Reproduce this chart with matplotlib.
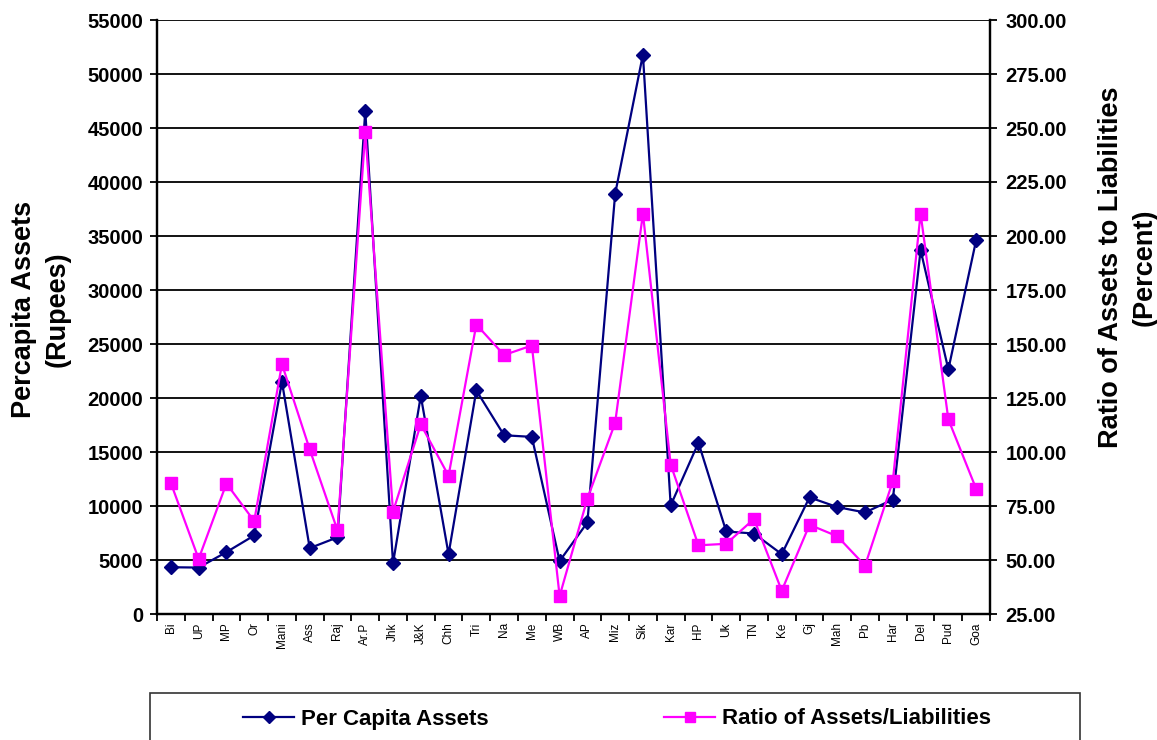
import matplotlib
matplotlib.use("Agg")
import matplotlib.pyplot as plt
from matplotlib.patches import Rectangle
from matplotlib.ticker import FormatStrFormatter, MultipleLocator

plt.rcParams['font.family'] = ['Liberation Sans', 'DejaVu Sans']

states = ['Bi', 'UP', 'MP', 'Or', 'Mani', 'Ass', 'Raj', 'Ar.P', 'Jhk', 'J&K',
          'Chh', 'Tri', 'Na', 'Me', 'WB', 'AP', 'Miz', 'Sik', 'Kar', 'HP',
          'Uk', 'TN', 'Ke', 'Gj', 'Mah', 'Pb', 'Har', 'Del', 'Pud', 'Goa']

per_capita = [4330, 4300, 5730, 7270, 21500, 6100, 7100, 46600, 4700, 20200,
              5540, 20700, 16550, 16400, 4900, 8480, 38900, 51800, 10060, 15860,
              7640, 7450, 5540, 10800, 9900, 9400, 10600, 33700, 22650, 34600]

ratio = [85.6, 50.5, 85.4, 68.0, 140.7, 101.2, 63.7, 248.0, 72.4, 112.8,
         89.0, 159.0, 144.9, 149.3, 33.3, 78.4, 113.5, 210.4, 94.2, 56.8,
         57.5, 69.0, 35.8, 66.3, 61.0, 47.4, 86.5, 210.4, 115.1, 83.0]

W, H = 1157, 740
fig = plt.figure(figsize=(W / 100, H / 100), dpi=100)
ax = fig.add_axes([157 / W, 1 - 614 / H, (990 - 157) / W, (614 - 20) / H])
ax2 = ax.twinx()

x = list(range(len(states)))

# left axis: per capita assets
l1, = ax.plot(x, per_capita, color='#000080', lw=1.6, marker='D', ms=7,
              mfc='#000080', mec='#000080', label='Per Capita Assets')
ax.set_ylim(0, 55000)
ax.yaxis.set_major_locator(MultipleLocator(5000))
ax.grid(axis='y', color='black', lw=1.3)
ax.set_axisbelow(True)

# right axis: ratio
l2, = ax2.plot(x, ratio, color='#FF00FF', lw=1.6, marker='s', ms=8,
               mfc='#FF00FF', mec='#FF00FF', label='Ratio of Assets/Liabilities')
ax2.set_ylim(25, 300)
ax2.yaxis.set_major_locator(MultipleLocator(25))
ax2.yaxis.set_major_formatter(FormatStrFormatter('%.2f'))

ax.set_xlim(-0.5, len(states) - 0.5)
ax.set_xticks(x)
ax.set_xticklabels(states, rotation=90, fontsize=8.5)
ax.set_xticks([i - 0.5 for i in range(len(states) + 1)], minor=True)
ax.tick_params(axis='x', which='major', length=0, pad=6)
ax.tick_params(axis='x', which='minor', length=5, width=1.3, direction='out')

for a in (ax, ax2):
    for side in ('left', 'right', 'bottom'):
        a.spines[side].set_linewidth(1.6)
        a.spines[side].set_color('black')
    a.spines['top'].set_visible(False)

ax.tick_params(axis='y', length=5, width=1.3, labelsize=14.5, pad=5)
ax2.tick_params(axis='y', length=5, width=1.3, labelsize=14.5, pad=6)
for lab in ax.get_yticklabels() + ax2.get_yticklabels():
    lab.set_fontweight('bold')

fig.text(41 / W, 1 - 309 / H, 'Percapita Assets\n(Rupees)', rotation=90,
         ha='center', va='center', ma='center', fontsize=19.5, fontweight='bold',
         linespacing=1.35)
fig.text(1128 / W, 1 - 267 / H, 'Ratio of Assets to Liabilities\n(Percent)',
         rotation=90, ha='center', va='center', ma='center', fontsize=19.5,
         fontweight='bold', linespacing=1.35)

# legend box (runs off the bottom of the figure)
fig.add_artist(Rectangle((150 / W, -0.1), (1080 - 150) / W, (1 - 693 / H) + 0.1,
                         transform=fig.transFigure, fill=False, ec='#333333', lw=1.2))
fig.legend(handles=[l1, l2], loc='center left', ncol=2,
           bbox_to_anchor=(232 / W, 1 - 719 / H), frameon=False, borderpad=0,
           prop={'size': 16, 'weight': 'bold'}, handlelength=2.3,
           handletextpad=0.3, columnspacing=7.9, markerscale=0.9)

fig.savefig('out.png', dpi=100)
